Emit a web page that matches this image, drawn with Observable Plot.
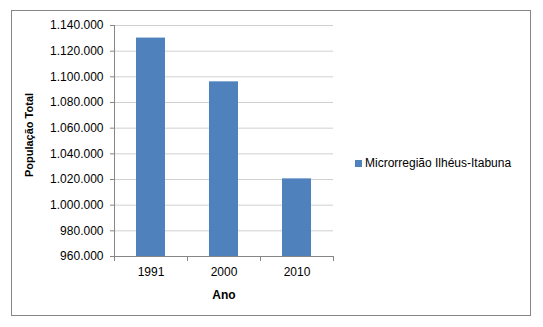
<!DOCTYPE html>
<html>
<head>
<meta charset="utf-8">
<script src="https://cdn.jsdelivr.net/npm/d3@7"></script>
<script src="https://cdn.jsdelivr.net/npm/@observablehq/plot@0.6"></script>
<style>
  html, body { margin: 0; padding: 0; background: #fff; }
  #wrap { position: relative; width: 543px; height: 327px; font-family: "Liberation Sans", Arial, sans-serif; }
  #border { position: absolute; left: 11px; top: 10px; width: 518px; height: 304px; border: 1px solid #868686; pointer-events: none; }
  #legend { position: absolute; left: 355px; top: 156px; font-size: 12px; color: #000; display: flex; align-items: center; white-space: nowrap; }
  #legend .sw { width: 7px; height: 7px; background: #4f81bd; margin-right: 3px; }
</style>
</head>
<body>
<div id="wrap">
  <div id="chart"></div>
  <div id="border"></div>
  <div id="legend"><span class="sw"></span><span id="legendText"></span></div>
</div>
<script>
const years = ["1991", "2000", "2010"];
const population = [1130200, 1096100, 1020500];
const yTicks = [960000, 980000, 1000000, 1020000, 1040000, 1060000, 1080000, 1100000, 1120000, 1140000];
const seriesName = "Microrregião Ilhéus-Itabuna";
const yTitle = "População Total";
const xTitle = "Ano";

const data = years.map((y, i) => ({year: y, value: population[i]}));
const fmt = d3.formatLocale({decimal: ",", thousands: ".", grouping: [3], currency: ["", ""]}).format(",d");
document.getElementById("legendText").textContent = seriesName;

const chart = Plot.plot({
  width: 543,
  height: 327,
  marginLeft: 114,
  marginRight: 210,
  marginTop: 25,
  marginBottom: 71,
  style: {fontFamily: "Liberation Sans, Arial, sans-serif", fontSize: "12px", color: "#000", background: "transparent"},
  x: {domain: years, paddingInner: 0.6, paddingOuter: 0.3, label: null},
  y: {domain: [960000, 1140000], label: null},
  marks: [
    Plot.gridY(yTicks, {stroke: "#d0d0d0", strokeOpacity: 1}),
    Plot.barY(data, {x: "year", y1: 960000, y2: "value", fill: "#4f81bd"}),
    Plot.ruleY([960000], {stroke: "#868686"}),
    Plot.ruleX(["1991"], {dx: -36.5, y1: 960000, y2: 1140000, stroke: "#868686"}),
    Plot.ruleX(years, {dx: -36.5, y1: 960000, y2: 960000, insetBottom: -5, stroke: "#868686"}),
    Plot.ruleX(["2010"], {dx: 36.5, y1: 960000, y2: 960000, insetBottom: -5, stroke: "#868686"}),
    Plot.axisY(yTicks, {tickSize: 4, tickPadding: 7, stroke: "#868686", tickFormat: fmt, fill: "#000", label: null}),
    Plot.axisX({tickSize: 0, tickPadding: 11, fill: "#000", label: null}),
    Plot.text([yTitle], {frameAnchor: "left", textAnchor: "middle", dx: -85, dy: -6, rotate: -90, fontWeight: "bold", fontSize: 11, fill: "#000"}),
    Plot.text([xTitle], {frameAnchor: "bottom", dy: 42, fontWeight: "bold", fontSize: 12, fill: "#000"})
  ]
});
document.getElementById("chart").appendChild(chart);
</script>
</body>
</html>
